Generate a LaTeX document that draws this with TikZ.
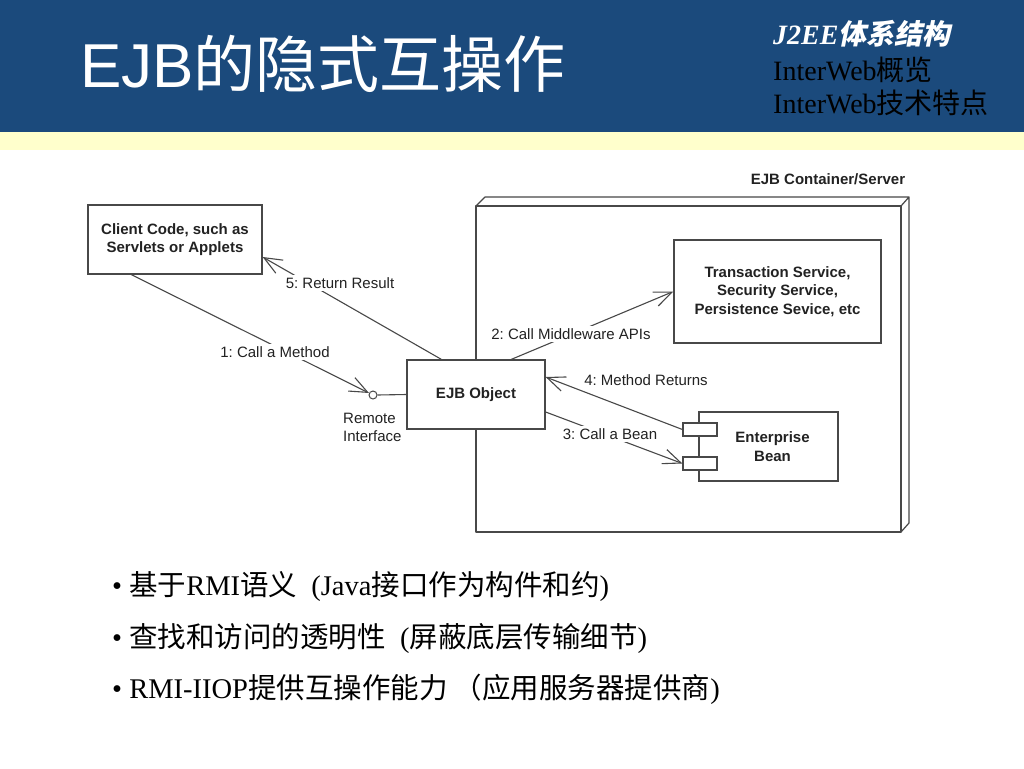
\documentclass[tikz,border=0pt]{standalone}
\usepackage{fontspec}
\setmainfont{Liberation Serif}
\setsansfont{Liberation Sans}
\newfontfamily\cjk{Noto Sans CJK SC}
\newfontfamily\cjksl{Noto Sans CJK SC}[FakeSlant=0.2]
\usetikzlibrary{arrows.meta,calc}
\definecolor{hdrblue}{HTML}{1B4A7C}
\definecolor{hdryellow}{HTML}{FFFFCC}
\definecolor{ink}{HTML}{222222}
\definecolor{linegray}{HTML}{484848}
\frenchspacing
\begin{document}
\begin{tikzpicture}[x=1pt,y=-1pt,
  box/.style={draw=linegray,line width=1.3pt,fill=white,inner sep=0pt,align=center,
    font=\sffamily\bfseries\fontsize{15}{18.5}\selectfont,text=ink},
  conn/.style={draw=linegray,line width=1.1pt},
  arr/.style={conn,-{Straight Barb[length=18pt,width=15pt]}},
  lbl/.style={fill=white,inner sep=2.5pt,font=\sffamily\fontsize{15}{18}\selectfont,text=ink},
  port/.style={draw=linegray,line width=1.2pt,fill=white,minimum width=34pt,minimum height=13pt,inner sep=0pt},
  bullet/.style={anchor=base west,inner sep=0pt,font=\fontsize{28.5}{32}\selectfont},
]
\useasboundingbox (0,0) rectangle (1024,768);
\fill[white] (0,0) rectangle (1024,768);
% header
\fill[hdrblue] (0,0) rectangle (1024,132);
\fill[hdryellow] (0,132) rectangle (1024,150);
\node[anchor=base west,inner sep=0pt,text=white,font=\sffamily\fontsize{62}{70}\selectfont] (title) at (80,87) {EJB{\cjk 的隐式互操作}};
\node[anchor=base west,inner sep=0pt,text=white,font=\bfseries\itshape\fontsize{28}{32}\selectfont] (nav1) at (773,45) {J2EE{\cjksl\bfseries 体系结构}};
\node[anchor=base west,inner sep=0pt,text=black,font=\fontsize{28}{32}\selectfont] (nav2) at (773,80) {InterWeb{\cjk 概览}};
\node[anchor=base west,inner sep=0pt,text=black,font=\fontsize{28}{32}\selectfont] (nav3) at (773,113) {InterWeb{\cjk 技术特点}};

% container (3D box)
\draw[linegray,line width=1.2pt,fill=white,line join=round]
  (476,206) rectangle (901,532);
\draw[linegray,line width=1.2pt,line join=round]
  (476,206) -- (485,197) -- (909,197) -- (901,206)
  (909,197) -- (909,523) -- (901,532);
\node[font=\sffamily\bfseries\fontsize{15}{18}\selectfont,text=ink,inner sep=0pt] (contlbl) at (828,179) {EJB Container/Server};

% nodes
\node[box,minimum width=174pt,minimum height=69pt] (client) at (175,239.5) {Client Code, such as\\Servlets or Applets};
\node[box,minimum width=138pt,minimum height=69pt] (ejb) at (476,394.5) {EJB Object};
\node[box,minimum width=207pt,minimum height=103pt] (trans) at (777.5,291.5) {Transaction Service,\\Security Service,\\Persistence Sevice, etc};
\node[box,minimum width=139pt,minimum height=69pt] (bean) at (768.5,446.5) {\hspace*{8pt}Enterprise\\\hspace*{8pt}Bean};
\node[port] (p1) at (700,429.5) {};
\node[port] (p2) at (700,463.5) {};
\node[draw=linegray,circle,minimum size=8pt,inner sep=0pt,line width=1pt,fill=white] (ri) at (373,395) {};
\node[anchor=north west,inner sep=0pt,align=left,font=\sffamily\fontsize{15}{18}\selectfont,text=ink] (rilbl) at (343,413) {Remote\\Interface};

% connectors
\draw[conn] (ri.east) -- (ejb.west);
\draw[arr] ([xshift=44pt]client.south west) -- (ri);
\draw[arr] ([xshift=35pt]ejb.north west) -- ([yshift=-17.5pt]client.east);
\draw[arr] ([xshift=105pt]ejb.north west) -- (trans.west);
\draw[arr] (p1.west) -- ([yshift=17.5pt]ejb.east);
\draw[arr] ([yshift=-17.5pt]ejb.east) -- (p2.west);

% labels
\node[lbl] (l1) at (275,352) {1: Call a Method};
\node[lbl] (l5) at (340,283) {5: Return Result};
\node[lbl] (l2) at (571,334) {2: Call Middleware APIs};
\node[lbl] (l4) at (646,380) {4: Method Returns};
\node[lbl] (l3) at (610,434) {3: Call a Bean};

% bullets
\node[bullet] (b1) at (112,595) {\textbullet\ {\cjk 基于}RMI{\cjk 语义}\ \ (Java{\cjk 接口作为构件和约})};
\node[bullet] (b2) at (112,647) {\textbullet\ {\cjk 查找和访问的透明性}\ \ ({\cjk 屏蔽底层传输细节})};
\node[bullet] (b3) at (112,698) {\textbullet\ RMI-IIOP{\cjk 提供互操作能力\ （应用服务器提供商})};
\end{tikzpicture}
\end{document}
